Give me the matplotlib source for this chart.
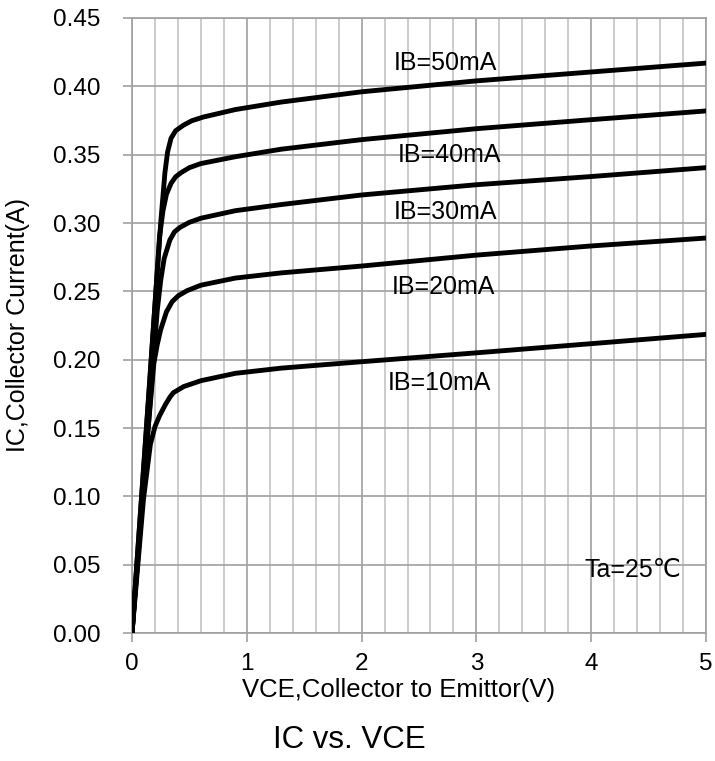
import numpy as np
import matplotlib.pyplot as plt
from matplotlib.ticker import MultipleLocator

plt.rcParams['font.family'] = ['Liberation Sans', 'DejaVu Sans']

# VCE (V) / IC (A), one pair of lists per base current
vce_10 = [0, 0.1, 0.16, 0.2, 0.24, 0.29, 0.33, 0.36, 0.45, 0.6, 0.9, 1.3, 2.0, 3.0, 4.0, 5.0]
ic_10 = [0, 0.098, 0.138, 0.151, 0.159, 0.167, 0.1725, 0.1758, 0.1803, 0.1846, 0.19, 0.1938, 0.1985, 0.205, 0.2117, 0.2185]

vce_20 = [0, 0.12, 0.19, 0.22, 0.25, 0.3, 0.35, 0.404, 0.48, 0.6, 0.9, 1.3, 2.0, 3.0, 4.0, 5.0]
ic_20 = [0, 0.13, 0.197, 0.211, 0.222, 0.235, 0.2425, 0.2468, 0.2505, 0.2545, 0.2597, 0.2635, 0.2685, 0.2765, 0.2832, 0.289]

vce_30 = [0, 0.15, 0.22, 0.25, 0.28, 0.33, 0.37, 0.418, 0.5, 0.6, 0.9, 1.3, 2.0, 3.0, 4.0, 5.0]
ic_30 = [0, 0.16, 0.236, 0.258, 0.274, 0.2876, 0.2935, 0.2968, 0.3005, 0.3035, 0.309, 0.3135, 0.3205, 0.328, 0.334, 0.3405]

vce_40 = [0, 0.15, 0.24, 0.27, 0.3, 0.34, 0.38, 0.43, 0.5, 0.6, 0.9, 1.3, 2.0, 3.0, 4.0, 5.0]
ic_40 = [0, 0.178, 0.29, 0.309, 0.321, 0.329, 0.3338, 0.337, 0.3405, 0.3435, 0.3485, 0.354, 0.361, 0.369, 0.3756, 0.382]

vce_50 = [0, 0.15, 0.25, 0.287, 0.31, 0.34, 0.38, 0.447, 0.52, 0.62, 0.9, 1.3, 2.0, 3.0, 4.0, 5.0]
ic_50 = [0, 0.18, 0.30, 0.337, 0.352, 0.362, 0.3675, 0.3715, 0.3748, 0.3775, 0.383, 0.3885, 0.396, 0.404, 0.4105, 0.417]

curve_labels = ["IB=10mA", "IB=20mA", "IB=30mA", "IB=40mA", "IB=50mA"]
label_x = [2.68, 2.71, 2.73, 2.77, 2.73]
label_y = [0.183, 0.253, 0.308, 0.35, 0.417]

fig = plt.figure(figsize=(7.15, 7.61), dpi=100)
ax = fig.add_axes([132/715, 1-633/761, (706-132)/715, (633-18)/761])

for v, i in [(vce_10, ic_10), (vce_20, ic_20), (vce_30, ic_30), (vce_40, ic_40), (vce_50, ic_50)]:
    ax.plot(v, i, color="black", lw=3.5, solid_joinstyle="round", solid_capstyle="round", zorder=3)

for t, x, y in zip(curve_labels, label_x, label_y):
    ax.text(x, y, t, fontsize=18, ha="center", va="center", zorder=4)
ax.text(4.36, 0.046, "Ta=25\u2103", fontsize=18, ha="center", va="center", zorder=4)

ax.set_xlim(0, 5)
ax.set_ylim(0, 0.45)
ax.xaxis.set_major_locator(MultipleLocator(1))
ax.xaxis.set_minor_locator(MultipleLocator(0.2))
ax.yaxis.set_major_locator(MultipleLocator(0.05))
ax.yaxis.set_major_formatter(plt.FormatStrFormatter("%.2f"))

ax.grid(which="major", color="#a0a0a0", lw=1.2)
ax.grid(which="minor", axis="x", color="#c4c4c4", lw=1.2)
ax.set_axisbelow(True)
for s in ax.spines.values():
    s.set_color("#a0a0a0")
    s.set_linewidth(1.2)

ax.tick_params(which="major", direction="out", length=6.5, color="#a0a0a0", width=1.2, labelsize=17.5)
ax.tick_params(axis="y", pad=16)
ax.tick_params(axis="x", pad=8)
ax.tick_params(which="minor", length=0)

fig.text(18/715, 1-325/761, "IC,Collector Current(A)", rotation=90, ha="center", va="center", fontsize=18)
fig.text(399/715, 1-690/761, "VCE,Collector to Emittor(V)", ha="center", va="center", fontsize=18.5)
fig.text(349/715, 1-740/761, "IC vs. VCE", ha="center", va="center", fontsize=22.5)

fig.savefig("out.png", dpi=100)
